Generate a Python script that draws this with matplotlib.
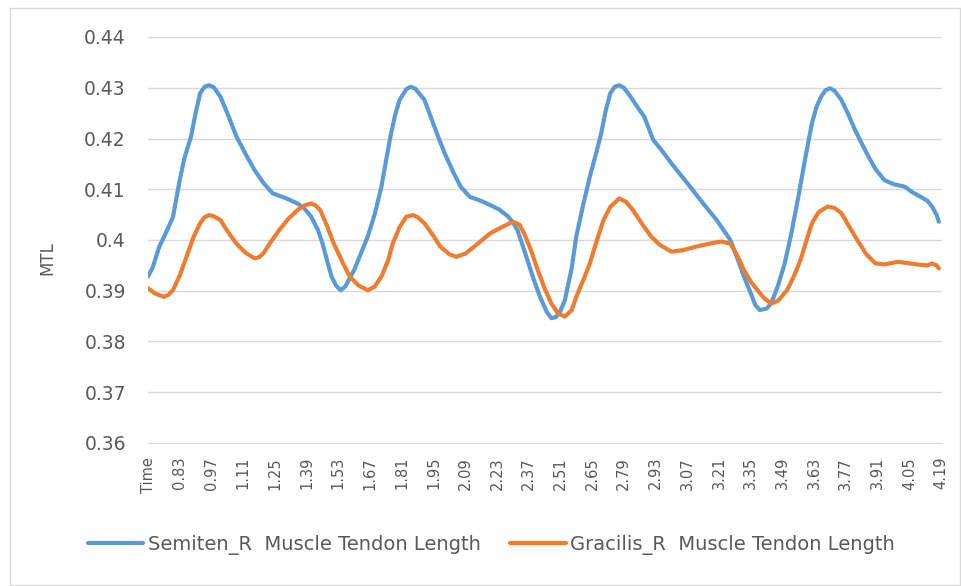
import numpy as np
import matplotlib.pyplot as plt
from matplotlib.patches import Rectangle

# values (time in s, MTL)
semiten_t = [0.69, 0.71, 0.74, 0.77, 0.80, 0.83, 0.85, 0.88, 0.90, 0.92,
             0.94, 0.96, 0.98, 1.01, 1.04, 1.08, 1.12, 1.16, 1.20, 1.24,
             1.30, 1.35, 1.38, 1.41, 1.44, 1.46, 1.48, 1.50, 1.52, 1.54,
             1.56, 1.60, 1.66, 1.69, 1.72, 1.74, 1.76, 1.78, 1.80, 1.83,
             1.85, 1.87, 1.91, 1.94, 1.97, 2.00, 2.04, 2.07, 2.11, 2.16,
             2.20, 2.24, 2.28, 2.30, 2.32, 2.36, 2.39, 2.42, 2.45, 2.47,
             2.49, 2.51, 2.53, 2.56, 2.58, 2.61, 2.64, 2.67, 2.69, 2.71,
             2.73, 2.75, 2.77, 2.79, 2.82, 2.85, 2.88, 2.90, 2.92, 2.96,
             3.00, 3.07, 3.14, 3.20, 3.26, 3.29, 3.32, 3.35, 3.37, 3.39,
             3.42, 3.44, 3.47, 3.50, 3.53, 3.56, 3.59, 3.62, 3.64, 3.66,
             3.68, 3.70, 3.72, 3.75, 3.78, 3.81, 3.84, 3.87, 3.90, 3.94,
             3.98, 4.03, 4.06, 4.10, 4.13, 4.15, 4.17, 4.18]
semiten_mtl = [0.3928, 0.3945, 0.3987, 0.4015, 0.4045, 0.4118, 0.4160, 0.4204, 0.4250, 0.4289,
               0.4302, 0.4305, 0.4301, 0.4282, 0.4250, 0.4204, 0.4170, 0.4138, 0.4112, 0.4092,
               0.4082, 0.4072, 0.4062, 0.4046, 0.4020, 0.3993, 0.3960, 0.3928, 0.3910, 0.3901,
               0.3908, 0.3941, 0.4007, 0.4050, 0.4105, 0.4155, 0.4204, 0.4245, 0.4276, 0.4297,
               0.4302, 0.4298, 0.4276, 0.4240, 0.4204, 0.4170, 0.4131, 0.4105, 0.4085, 0.4077,
               0.4069, 0.4060, 0.4046, 0.4035, 0.4020, 0.3967, 0.3925, 0.3888, 0.3858, 0.3846,
               0.3848, 0.3860, 0.3882, 0.3945, 0.4007, 0.4068, 0.4125, 0.4175, 0.4210, 0.4255,
               0.4289, 0.4302, 0.4305, 0.4300, 0.4282, 0.4262, 0.4243, 0.4220, 0.4197, 0.4175,
               0.4151, 0.4112, 0.4072, 0.4039, 0.4000, 0.3965, 0.3928, 0.3895, 0.3872, 0.3862,
               0.3865, 0.3875, 0.3910, 0.3954, 0.4015, 0.4085, 0.4160, 0.4230, 0.4262, 0.4282,
               0.4295, 0.4299, 0.4294, 0.4276, 0.4248, 0.4217, 0.4190, 0.4164, 0.4140, 0.4118,
               0.4110, 0.4105, 0.4095, 0.4085, 0.4077, 0.4066, 0.4050, 0.4036]

gracilis_t = [0.69, 0.72, 0.76, 0.78, 0.80, 0.83, 0.86, 0.89, 0.92, 0.94,
              0.96, 0.98, 1.01, 1.04, 1.08, 1.12, 1.16, 1.18, 1.20, 1.23,
              1.27, 1.31, 1.35, 1.38, 1.41, 1.43, 1.45, 1.48, 1.51, 1.55,
              1.58, 1.62, 1.66, 1.69, 1.72, 1.75, 1.77, 1.80, 1.83, 1.86,
              1.88, 1.91, 1.95, 1.98, 2.02, 2.05, 2.09, 2.13, 2.17, 2.20,
              2.25, 2.30, 2.33, 2.35, 2.38, 2.41, 2.44, 2.47, 2.50, 2.53,
              2.56, 2.58, 2.61, 2.64, 2.67, 2.70, 2.73, 2.77, 2.80, 2.83,
              2.87, 2.91, 2.95, 3.00, 3.05, 3.11, 3.17, 3.22, 3.26, 3.29,
              3.32, 3.35, 3.38, 3.41, 3.44, 3.47, 3.51, 3.54, 3.57, 3.60,
              3.62, 3.65, 3.69, 3.72, 3.75, 3.78, 3.82, 3.86, 3.90, 3.94,
              4.00, 4.05, 4.10, 4.13, 4.15, 4.17, 4.18]
gracilis_mtl = [0.3905, 0.3895, 0.3888, 0.3892, 0.3901, 0.3930, 0.3967, 0.4005, 0.4033, 0.4045,
                0.4049, 0.4047, 0.4039, 0.4018, 0.3993, 0.3975, 0.3964, 0.3966, 0.3974, 0.3995,
                0.4020, 0.4042, 0.4059, 0.4068, 0.4072, 0.4068, 0.4059, 0.4028, 0.3993, 0.3955,
                0.3928, 0.3910, 0.3901, 0.3908, 0.3928, 0.3960, 0.3993, 0.4025, 0.4046, 0.4049,
                0.4045, 0.4033, 0.4008, 0.3987, 0.3972, 0.3967, 0.3973, 0.3987, 0.4002, 0.4013,
                0.4025, 0.4036, 0.4030, 0.4013, 0.3980, 0.3941, 0.3905, 0.3875, 0.3855, 0.3849,
                0.3862, 0.3888, 0.3920, 0.3954, 0.3998, 0.4039, 0.4065, 0.4082, 0.4075, 0.4059,
                0.4032, 0.4007, 0.3990, 0.3977, 0.3980, 0.3987, 0.3993, 0.3997, 0.3993, 0.3970,
                0.3941, 0.3918, 0.3901, 0.3885, 0.3875, 0.3880, 0.3901, 0.3928, 0.3961, 0.4005,
                0.4033, 0.4055, 0.4066, 0.4063, 0.4053, 0.4030, 0.4000, 0.3972, 0.3954, 0.3952,
                0.3957, 0.3954, 0.3951, 0.3950, 0.3954, 0.3950, 0.3944]

tick_pos = [0.69, 0.83, 0.97, 1.11, 1.25, 1.39, 1.53, 1.67, 1.81, 1.95, 2.09, 2.23, 2.37,
            2.51, 2.65, 2.79, 2.93, 3.07, 3.21, 3.35, 3.49, 3.63, 3.77, 3.91, 4.05, 4.19]
tick_labels = ["Time"] + ["%.2f" % t for t in tick_pos[1:]]
y_ticks = [0.36, 0.37, 0.38, 0.39, 0.40, 0.41, 0.42, 0.43, 0.44]
y_labels = ["0.36", "0.37", "0.38", "0.39", "0.4", "0.41", "0.42", "0.43", "0.44"]

blue = '#5B9BD5'
orange = '#ED7D31'
grey_txt = '#595959'

plt.rcParams['font.family'] = ['DejaVu Sans']

fig = plt.figure(figsize=(9.61, 5.86), dpi=100)
ax = fig.add_axes([148/961, 1 - 443/586, (942 - 148)/961, (443 - 37)/586])

ax.plot(semiten_t, semiten_mtl, color=blue, lw=3.0, solid_joinstyle='round',
        solid_capstyle='round', label='Semiten_R  Muscle Tendon Length')
ax.plot(gracilis_t, gracilis_mtl, color=orange, lw=3.0, solid_joinstyle='round',
        solid_capstyle='round', label='Gracilis_R  Muscle Tendon Length')

ax.set_xlim(0.69, 4.194)
ax.set_ylim(0.36, 0.44)
ax.set_yticks(y_ticks)
ax.set_yticklabels(y_labels, fontsize=13.5, color=grey_txt)
ax.set_xticks(tick_pos)
ax.set_xticklabels(tick_labels, rotation=90, fontsize=10.5, color=grey_txt)
ax.tick_params(axis='y', length=0, pad=16)
ax.tick_params(axis='x', length=0, pad=10)
ax.grid(axis='y', color='#D9D9D9', lw=1)
ax.set_axisbelow(True)
for s in ['top', 'right', 'left']:
    ax.spines[s].set_visible(False)
ax.spines['bottom'].set_color('#D9D9D9')

fig.text(47/961, 1 - 258/586, 'MTL', rotation=90, ha='center', va='center',
         fontsize=12, color=grey_txt)

fig.legend(loc='center', bbox_to_anchor=(0.5115, 1 - 545/586), ncol=2, frameon=False,
           fontsize=14, labelcolor=grey_txt, handlelength=2.85, handletextpad=0.25,
           columnspacing=1.5)

# chart area border
fig.patches.append(Rectangle((10/961, 1 - 585/586), 950/961, 577/586,
                             transform=fig.transFigure, fill=False,
                             edgecolor='#D9D9D9', lw=1))

fig.savefig('out.png', dpi=100)
